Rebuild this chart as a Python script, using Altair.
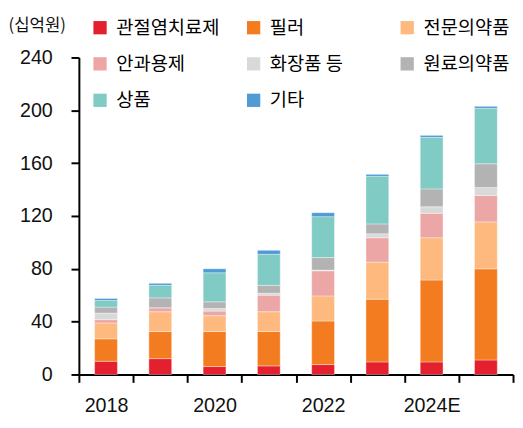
import altair as alt
import pandas as pd

years = ["2018", "2019", "2020", "2021", "2022", "2023", "2024E", "2025E"]
shown_years = ["2018", "2020", "2022", "2024E"]
categories = ["관절염치료제", "필러", "전문의약품", "안과용제", "화장품 등", "원료의약품", "상품", "기타"]
colors = ["#E5202E", "#F47C20", "#FDB97E", "#ECA6A6", "#D9D9D9", "#B3B3B3", "#80CBC4", "#4E9BD6"]

arthritis = [10, 12, 6, 6.5, 7.5, 9.5, 9.5, 11]
filler = [17, 20.5, 26.5, 26, 33, 47.5, 62, 69]
prescription = [12, 15, 12, 15, 19, 28, 32, 35.5]
ophthalmic = [2.5, 3, 3.5, 12.5, 19, 18.5, 18.5, 20]
cosmetics = [5, 0, 2, 1.5, 0.5, 3, 5, 6]
api = [4.5, 7.5, 5, 6, 9.5, 7.5, 13.5, 18]
goods = [5, 9.5, 22, 23.5, 31, 36, 39, 42]
others = [1.5, 1.5, 3, 3, 3, 1.5, 1.5, 1.5]

series = [arthritis, filler, prescription, ophthalmic, cosmetics, api, goods, others]

rows = []
for i, (cat, vals) in enumerate(zip(categories, series)):
    for yr, v in zip(years, vals):
        rows.append({"year": yr, "cat": cat, "idx": i, "value": v})
df = pd.DataFrame(rows)

label_expr = "indexof(" + str(shown_years).replace('"', "'") + ", datum.value) >= 0 ? datum.label : ''"

axis_font = "Liberation Sans"

chart = alt.Chart(df).mark_bar(
    width=alt.RelativeBandSize(0.42), stroke="white", strokeWidth=0.6, strokeOpacity=0.6
).encode(
    x=alt.X(
        "year:N", sort=years,
        scale=alt.Scale(paddingInner=0, paddingOuter=0),
        axis=alt.Axis(
            title=None, labelAngle=0, tickBand="extent", labelExpr=label_expr,
            labelFont=axis_font, labelFontSize=20, labelColor="#111111", labelPadding=14,
            domainColor="#000000", domainWidth=2, tickColor="#000000", tickWidth=2, tickSize=8,
            grid=False,
        ),
    ),
    y=alt.Y(
        "value:Q", stack="zero",
        scale=alt.Scale(domain=[0, 240], nice=False),
        axis=alt.Axis(
            values=[0, 40, 80, 120, 160, 200, 240], grid=False,
            labelFont=axis_font, labelFontSize=20, labelColor="#111111", labelPadding=19,
            domainColor="#000000", domainWidth=2, tickColor="#000000", tickWidth=2, tickSize=8,
            title="(십억원)", titleAngle=0, titleAlign="left", titleBaseline="middle",
            titleX=-72, titleY=-32, titleFont="Noto Sans CJK KR", titleFontSize=17,
            titleFontWeight="normal", titleColor="#111111",
        ),
    ),
    color=alt.Color(
        "cat:N", sort=categories,
        scale=alt.Scale(domain=categories, range=colors),
        legend=alt.Legend(
            title=None, orient="none", direction="horizontal", legendX=12, legendY=-40,
            columns=3, gridAlign="all",
            columnPadding=25, rowPadding=17, symbolType="square", symbolSize=182,
            symbolStrokeWidth=0, labelFont="Noto Sans CJK KR", labelFontSize=19,
            labelOffset=7, labelColor="#000000", labelLimit=300,
        ),
    ),
    order=alt.Order("idx:Q", sort="ascending"),
).properties(
    width=441, height=322,
    autosize=alt.AutoSizeParams(type="none"),
    padding={"left": 72, "top": 47, "right": 2, "bottom": 43},
).configure_view(stroke=None)

chart.save("out.html", embed_options={"renderer": "svg", "actions": False})
